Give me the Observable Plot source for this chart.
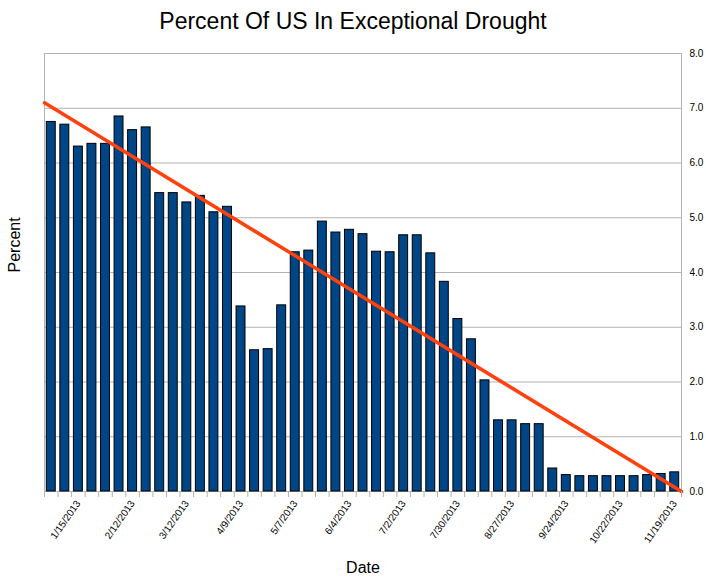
<!DOCTYPE html>
<html><head><meta charset="utf-8">
<script src="https://cdn.jsdelivr.net/npm/d3@7"></script>
<script src="https://cdn.jsdelivr.net/npm/@observablehq/plot@0.6"></script>
<style>body{margin:0;background:#fff;font-family:"Liberation Sans",Arial,sans-serif}
#t{position:absolute;top:8px;left:0;width:706px;text-align:center;font-size:23px;color:#000}
#c{position:absolute;top:0;left:0}</style></head>
<body><div id="t">Percent Of US In Exceptional Drought</div><div id="c"></div>
<script>
const startDate = "2013-01-01";
const values = [6.75,6.7,6.3,6.35,6.35,6.85,6.6,6.65,5.45,5.45,5.28,5.4,5.1,5.2,3.38,2.58,2.6,3.4,4.37,4.4,4.93,4.73,4.78,4.7,4.38,4.37,4.68,4.68,4.35,3.83,3.15,2.78,2.03,1.3,1.3,1.23,1.23,0.42,0.3,0.28,0.28,0.28,0.28,0.28,0.3,0.32,0.35];
const trendStart = 7.1, trendEnd = 0;
const yTicks = [0,1,2,3,4,5,6,7,8];
const fmt = d3.utcFormat("%-m/%-d/%Y");
const s = d3.utcParse("%Y-%m-%d")(startDate);
const data = values.map((v,i)=>({i, v, label: fmt(d3.utcDay.offset(s, 7*i))}));
const n = values.length;
const labelIdx = d3.range(2, n, 4);
const chart = Plot.plot({
  width:706, height:587, marginLeft:44, marginRight:25, marginTop:53, marginBottom:96,
  style:{fontFamily:"Liberation Sans, Arial, sans-serif", fontSize:"10px"},
  x:{domain:[-0.5, n-0.5]},
  y:{domain:[0,8]},
  marks:[
    Plot.gridY(yTicks,{stroke:"#b3b3b3",strokeOpacity:1}),
    Plot.frame({stroke:"#b3b3b3"}),
    Plot.rectY(data,{x1:d=>d.i-0.33,x2:d=>d.i+0.33,y:"v",fill:"#004586",stroke:"#000",strokeWidth:1}),
    Plot.line([{x:-0.5,y:trendStart},{x:n-0.5,y:trendEnd}],{x:"x",y:"y",stroke:"#ff420e",strokeWidth:3.5}),
    Plot.axisY(yTicks,{anchor:"right",tickSize:0,tickPadding:8,fontSize:10,label:null}),
    Plot.axisX(d3.range(-0.5,n,1),{tickSize:6,stroke:"#b3b3b3",tickFormat:()=>"",label:null}),
    Plot.axisX(labelIdx,{tickSize:0,tickPadding:10,tickRotate:-55,tickFormat:i=>data[i].label,fontSize:10,label:null}),
    Plot.text(["Percent"],{frameAnchor:"left",dx:-30,rotate:-90,fontSize:16}),
    Plot.text(["Date"],{frameAnchor:"bottom",dy:81,fontSize:16})
  ]
});
document.getElementById("c").append(chart);
</script></body></html>
